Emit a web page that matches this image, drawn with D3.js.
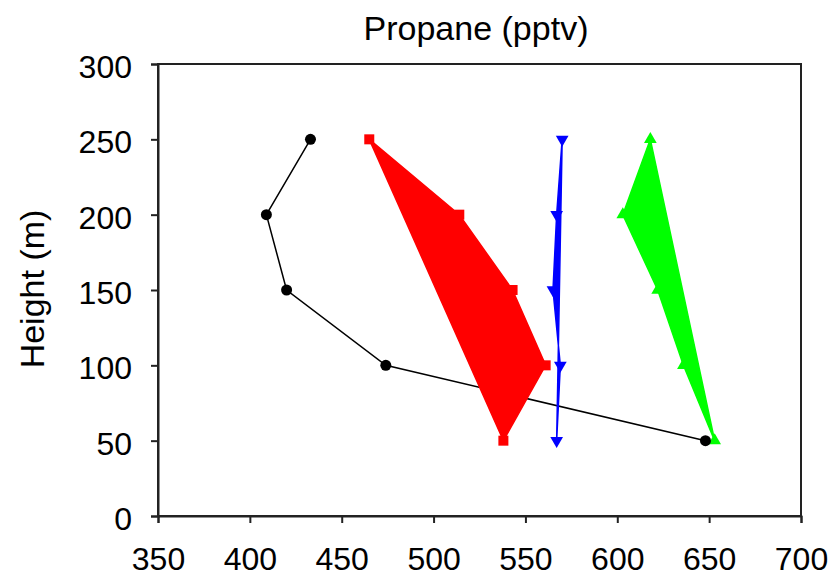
<!DOCTYPE html>
<html>
<head>
<meta charset="utf-8">
<script src="https://cdn.jsdelivr.net/npm/d3@7"></script>
<style>
  html, body { margin: 0; padding: 0; background: #fff; }
  svg { display: block; font-family: "Liberation Sans", Arial, sans-serif; }
</style>
</head>
<body>
<svg id="chart" width="835" height="577"></svg>
<script>
// ---- data ----
const heights = [250, 200, 150, 100, 50];
const blackVals = [433, 409, 420, 474, 648];
const redVals   = [465, 514, 543, 561, 538];
const blueVals  = [570, 567, 565, 569, 567];
const greenVals = [618, 603, 622, 636, 653];
const xTicks = [350, 400, 450, 500, 550, 600, 650, 700];
const yTicks = [0, 50, 100, 150, 200, 250, 300];
const chartTitle = "Propane (pptv)";
const yLabel = "Height (m)";

// ---- layout ----
(function () {
const svg = d3.select("#chart");
const mL = 158, mR = 801, mT = 64, mB = 516;
const x = d3.scaleLinear().domain([350, 700]).range([mL, mR]);
const y = d3.scaleLinear().domain([0, 300]).range([mB, mT]);

const pts = vals => vals.map((v, i) => [x(v), y(heights[i])]);

// frame
svg.append("rect")
  .attr("x", mL).attr("y", mT)
  .attr("width", mR - mL).attr("height", mB - mT)
  .attr("fill", "none").attr("stroke", "#222").attr("stroke-width", 2);

// axes
const xAxis = svg.append("g").attr("transform", `translate(0,${mB})`)
  .call(d3.axisBottom(x).tickValues(xTicks).tickSize(7).tickPadding(24).tickFormat(d3.format("d")));
const yAxis = svg.append("g").attr("transform", `translate(${mL},0)`)
  .call(d3.axisLeft(y).tickValues(yTicks).tickSize(7).tickPadding(19).tickFormat(d3.format("d")));
[xAxis, yAxis].forEach(g => {
  g.select(".domain").attr("stroke", "#222").attr("stroke-width", 2);
  g.selectAll(".tick line").attr("stroke", "#222").attr("stroke-width", 2);
  g.selectAll(".tick text").attr("font-size", 32).attr("fill", "#000")
    .attr("font-family", "'Liberation Sans', Arial, sans-serif");
});
yAxis.selectAll(".tick text").attr("dy", "0.42em");

// black line
const line = d3.line();
svg.append("path").attr("d", line(pts(blackVals)))
  .attr("fill", "none").attr("stroke", "#000").attr("stroke-width", 1.5);

// filled closed polygons
const closed = d3.line().curve(d3.curveLinearClosed);
[[redVals, "#ff0000"], [blueVals, "#0000ff"], [greenVals, "#00ff00"]].forEach(([vals, c]) => {
  svg.append("path").attr("d", closed(pts(vals)))
    .attr("fill", c).attr("stroke", c).attr("stroke-width", 1.5).attr("stroke-linejoin", "miter");
});

// markers
svg.append("g").selectAll("rect").data(pts(redVals)).join("rect")
  .attr("x", d => d[0] - 5).attr("y", d => d[1] - 5)
  .attr("width", 10).attr("height", 10).attr("fill", "#ff0000");

const tri = d3.symbol().type(d3.symbolTriangle).size(70);
svg.append("g").selectAll("path").data(pts(blueVals)).join("path")
  .attr("d", tri)
  .attr("transform", d => `translate(${d[0]},${d[1]}) rotate(180)`)
  .attr("fill", "#0000ff");

svg.append("g").selectAll("path").data(pts(greenVals)).join("path")
  .attr("d", tri)
  .attr("transform", d => `translate(${d[0]},${d[1]})`)
  .attr("fill", "#00ff00");

svg.append("g").selectAll("circle").data(pts(blackVals)).join("circle")
  .attr("cx", d => d[0]).attr("cy", d => d[1]).attr("r", 5.5).attr("fill", "#000");

// title & axis label
svg.append("text").attr("x", 476).attr("y", 40)
  .attr("text-anchor", "middle").attr("font-size", 34).text(chartTitle);
svg.append("text")
  .attr("transform", `translate(44,289) rotate(-90)`)
  .attr("text-anchor", "middle").attr("font-size", 34).text(yLabel);
})();
</script>
</body>
</html>
